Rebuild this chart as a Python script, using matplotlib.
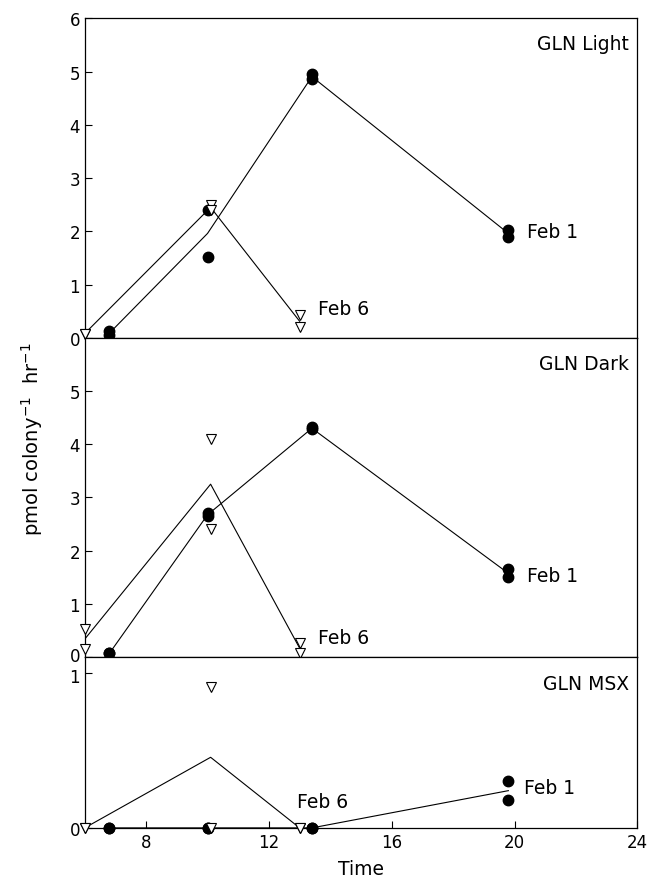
import matplotlib
matplotlib.use("Agg")
import matplotlib.pyplot as plt
import matplotlib.transforms as mtransforms
import numpy as np

# Time values (sampling points)
TimeFeb1 = [6.8, 10.0, 13.4, 19.8]
TimeFeb6 = [6.0, 10.1, 13.0]

PanelNames = ["GLN Light", "GLN Dark", "GLN MSX"]

# replicate measurements, two per time point
LightFeb1A = [0.12, 2.40, 4.95, 2.02]
LightFeb1B = [0.05, 1.52, 4.86, 1.90]
LightFeb6A = [0.08, 2.50, 0.42]
LightFeb6B = [0.08, 2.40, 0.20]

DarkFeb1A = [0.07, 2.70, 4.32, 1.65]
DarkFeb1B = [0.07, 2.65, 4.28, 1.50]
DarkFeb6A = [0.53, 4.10, 0.27]
DarkFeb6B = [0.15, 2.40, 0.07]

MsxFeb1A = [0.0, 0.0, 0.0, 0.30]
MsxFeb1B = [0.0, 0.0, 0.0, 0.18]
MsxFeb6A = [0.0, 0.91, 0.0]
MsxFeb6B = [0.0, 0.0, 0.0]

YLimits = [(0, 6), (0, 6), (0, 1.1)]
YTicks = [[0, 1, 2, 3, 4, 5, 6], [0, 1, 2, 3, 4, 5], [0, 1]]
XTicks = [8, 12, 16, 20, 24]

# label positions (x, y) for Feb 1 / Feb 6 texts
Feb1Label = [(20.4, 2.0), (20.4, 1.53), (20.3, 0.26)]
Feb6Label = [(13.6, 0.55), (13.6, 0.37), (12.9, 0.17)]


def main():
    plt.rcParams["font.family"] = "DejaVu Sans"
    fig = plt.figure(figsize=(6.47, 8.79), dpi=100)
    gs = fig.add_gridspec(
        3, 1, height_ratios=[320, 320, 171], hspace=0,
        left=0.131, right=0.985, top=0.978, bottom=0.057,
    )

    data = [
        (LightFeb1A, LightFeb1B, LightFeb6A, LightFeb6B),
        (DarkFeb1A, DarkFeb1B, DarkFeb6A, DarkFeb6B),
        (MsxFeb1A, MsxFeb1B, MsxFeb6A, MsxFeb6B),
    ]

    axes = []
    for i, (f1a, f1b, f6a, f6b) in enumerate(data):
        ax = fig.add_subplot(gs[i])
        axes.append(ax)
        f1mean = (np.array(f1a) + np.array(f1b)) / 2
        f6mean = (np.array(f6a) + np.array(f6b)) / 2

        ax.plot(TimeFeb1, f1mean, color="black", lw=0.8, zorder=2)
        ax.plot(TimeFeb6, f6mean, color="black", lw=0.8, zorder=2)
        for vals in (f1a, f1b):
            ax.plot(TimeFeb1, vals, linestyle="none", marker="o",
                    markersize=7.5, color="black", zorder=3, clip_on=False)
        for vals in (f6a, f6b):
            ax.plot(TimeFeb6, vals, linestyle="none", marker="v",
                    markersize=6.5, markerfacecolor="white",
                    markeredgecolor="black", markeredgewidth=0.8,
                    zorder=4, clip_on=False)

        ax.set_xlim(6, 24)
        ax.set_ylim(*YLimits[i])
        ax.set_yticks(YTicks[i])
        ax.set_yticklabels([str(t) for t in YTicks[i]])
        ax.tick_params(axis="both", direction="in", labelsize=12,
                       length=5, width=0.8)
        for s in ax.spines.values():
            s.set_linewidth(0.9)

        ax.text(0.985, 0.95 if i < 2 else 0.90, PanelNames[i],
                transform=ax.transAxes, ha="right", va="top", fontsize=13.5)
        ax.text(*Feb1Label[i], "Feb 1", ha="left", va="center", fontsize=13.5)
        ax.text(*Feb6Label[i], "Feb 6", ha="left", va="center", fontsize=13.5)

        if i < 2:
            ax.set_xticks([])
        else:
            ax.set_xticks(XTicks)
            ax.set_xticklabels([str(t) for t in XTicks])
            ax.set_xlabel("Time", fontsize=13.5, labelpad=6)

    # nudge the crowded labels at the middle/bottom boundary apart
    up = mtransforms.ScaledTranslation(0, 2 / 72, fig.dpi_scale_trans)
    down = mtransforms.ScaledTranslation(0, -2 / 72, fig.dpi_scale_trans)
    lbl0 = axes[1].get_yticklabels()[0]
    lbl0.set_transform(lbl0.get_transform() + up)
    lbl1 = axes[2].get_yticklabels()[1]
    lbl1.set_transform(lbl1.get_transform() + down)

    fig.text(0.05, 0.5, "pmol colony$^{-1}$  hr$^{-1}$", rotation=90,
             ha="center", va="center", fontsize=14)

    fig.savefig("out.png", dpi=100)


if __name__ == "__main__":
    main()
